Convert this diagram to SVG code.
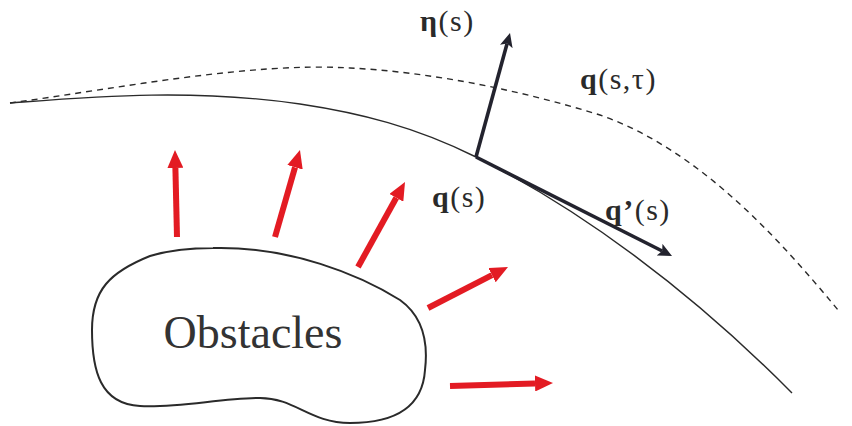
<svg xmlns="http://www.w3.org/2000/svg" width="852" height="426" viewBox="0 0 852 426">
<style>
.lbl{font-family:"Liberation Serif","Times New Roman",serif;font-size:30px;fill:#2a2a2a;letter-spacing:1.5px}
.b{font-weight:bold}
.obs{font-family:"Liberation Serif","Times New Roman",serif;font-size:46px;fill:#333}
.curve{fill:none;stroke:#2a2a2a;stroke-width:1.4}
.dash{fill:none;stroke:#2a2a2a;stroke-width:1.4;stroke-dasharray:6 5}
.red{stroke:#e31b23;stroke-width:6;fill:none}
.vec{stroke:#23232e;stroke-width:3.6;fill:none}
</style>
<defs>
<marker id="rh" markerUnits="userSpaceOnUse" markerWidth="18" markerHeight="16" viewBox="0 0 18 16" refX="0" refY="8" orient="auto"><path d="M0,0 L18,8 L0,16 z" fill="#e31b23"/></marker>
<marker id="dh" markerUnits="userSpaceOnUse" markerWidth="14" markerHeight="13" viewBox="0 0 14 13" refX="3" refY="6.5" orient="auto"><path d="M0,0 L14,6.5 L0,13 L3,6.5 z" fill="#23232e"/></marker>
</defs>
<rect width="852" height="426" fill="#fff"/>
<g id="obstacles">
<path d="M213,248 C290,246 360,275 400,300 C425,318 428,345 425,370 C423,400 405,423 350,423 C310,423 295,398 260,398 C220,398 180,408 140,406 C100,404 92,370 92,330 C92,290 110,272 150,256 C170,250 190,248 213,248 Z" fill="none" stroke="#2a2a2a" stroke-width="2"/>
<text class="obs" x="253" y="348" text-anchor="middle">Obstacles</text>
</g>
<g id="path-q">
<path class="curve" d="M10,103 C90,97 190,88 300,104 C360,113 416,127 476,157 C580,209 690,290 792,393"/>
</g>
<g id="path-q-tau">
<path class="dash" d="M10,103 C120,88 250,62 350,68 C430,72 520,90 600,115 C700,150 780,240 838,310"/>
</g>
<g id="connectors">
<line class="red" x1="177" y1="237" x2="175.4" y2="168" marker-end="url(#rh)"/>
<line class="red" x1="275" y1="237" x2="295" y2="167.3" marker-end="url(#rh)"/>
<line class="red" x1="358" y1="267" x2="396.3" y2="197.8" marker-end="url(#rh)"/>
<line class="red" x1="428" y1="308" x2="492" y2="275.2" marker-end="url(#rh)"/>
<line class="red" x1="450" y1="386" x2="535" y2="383.5" marker-end="url(#rh)"/>
<line class="vec" x1="476" y1="157" x2="507.1" y2="43.6" marker-end="url(#dh)"/>
<line class="vec" x1="476" y1="157" x2="662.2" y2="251" marker-end="url(#dh)"/>
</g>
<g id="labels">
<text class="lbl" x="420" y="31"><tspan class="b">η</tspan>(s)</text>
<text class="lbl" x="580" y="89"><tspan class="b">q</tspan>(s,τ)</text>
<text class="lbl" x="432" y="207"><tspan class="b">q</tspan>(s)</text>
<text class="lbl" x="605" y="220"><tspan class="b">q’</tspan>(s)</text>
</g>
</svg>
